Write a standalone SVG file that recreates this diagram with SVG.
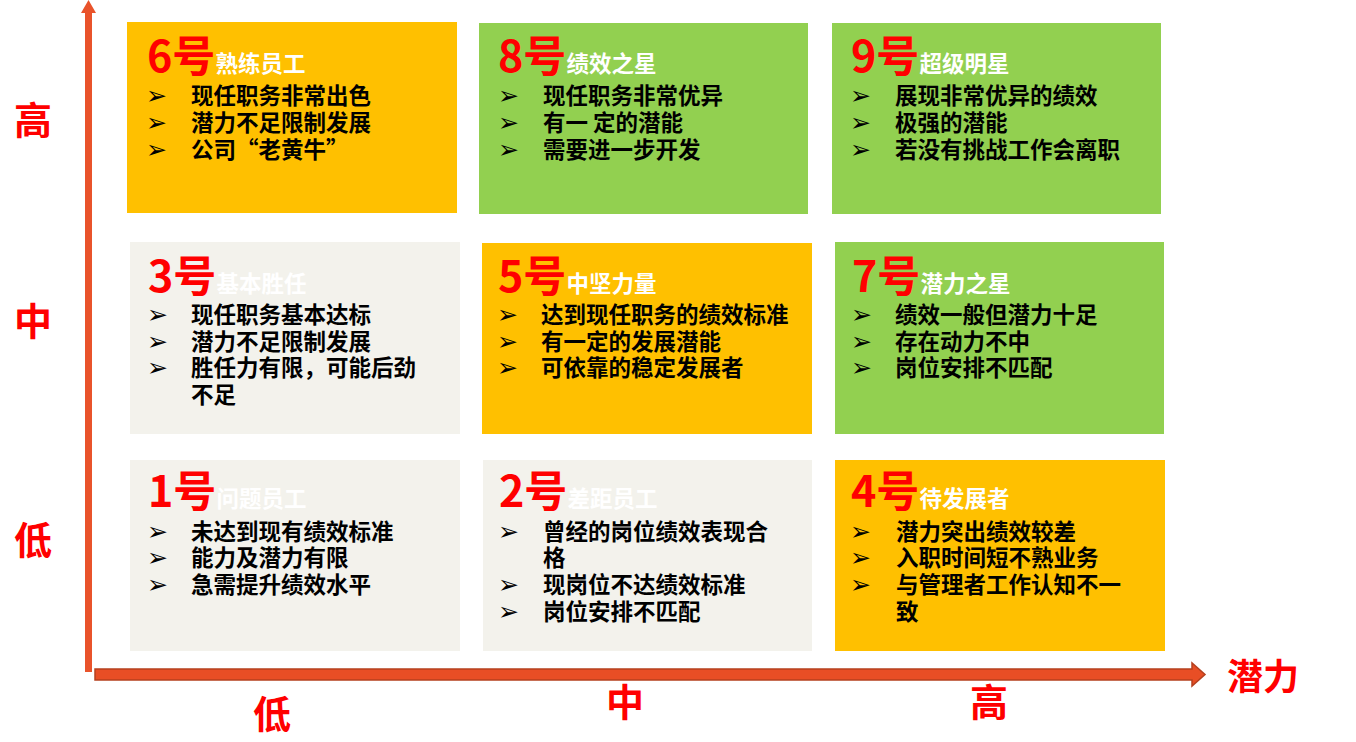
<svg xmlns="http://www.w3.org/2000/svg" width="1356" height="742" viewBox="0 0 1356 742">
<style>
.bg{fill:#FFFFFF}
.orange{fill:#FFC000}
.green{fill:#92D050}
.gray{fill:#F3F2EC}
.num{font-family:"Noto Sans CJK SC","Liberation Sans",sans-serif;font-weight:bold;font-size:43px;fill:#FF0000}
.sub{font-size:22.5px;fill:#FFFFFF}
.item{font-family:"Noto Sans CJK SC","Liberation Sans",sans-serif;font-weight:bold;font-size:22.5px;fill:#000000}
.blt{font-family:"DejaVu Sans",sans-serif;font-size:25px;fill:#000000}
.axis{font-family:"Noto Sans CJK SC","Liberation Sans",sans-serif;font-weight:bold;font-size:38px;fill:#FF0000;text-anchor:middle}
</style>
<rect class="bg" x="0" y="0" width="1356" height="742"/>

<g id="connectors">
  <polygon points="85,13 81,13 88.5,0 96,13 92,13 92,672 85,672" fill="#E9532B"/>
  <polygon points="95,669 1192,669 1192,663 1205,674.5 1192,686 1192,680 95,680" fill="#E84E25" stroke="#B5401E" stroke-width="1.5"/>
</g>

<g id="axis-labels">
  <text class="axis" x="33" y="134">高</text>
  <text class="axis" x="33" y="335">中</text>
  <text class="axis" x="33" y="554">低</text>
  <text class="axis" x="272" y="728">低</text>
  <text class="axis" x="625" y="716">中</text>
  <text class="axis" x="989" y="716">高</text>
  <text class="axis" x="1263" y="690" style="font-size:36px">潜力</text>
</g>

<g id="node6">
  <rect class="orange" x="127" y="22" width="330" height="191"/>
  <text class="num" x="147" y="72">6号<tspan class="sub">熟练员工</tspan></text>
  <text class="blt" x="146" y="104">➢</text><text class="item" x="191" y="104">现任职务非常出色</text>
  <text class="blt" x="146" y="131">➢</text><text class="item" x="191" y="131">潜力不足限制发展</text>
  <text class="blt" x="146" y="158">➢</text><text class="item" x="191" y="158">公司“老黄牛”</text>
</g>

<g id="node8">
  <rect class="green" x="479" y="23" width="329" height="191"/>
  <text class="num" x="498" y="72">8号<tspan class="sub">绩效之星</tspan></text>
  <text class="blt" x="498" y="104">➢</text><text class="item" x="543" y="104">现任职务非常优异</text>
  <text class="blt" x="498" y="131">➢</text><text class="item" x="543" y="131">有一 定的潜能</text>
  <text class="blt" x="498" y="158">➢</text><text class="item" x="543" y="158">需要进一步开发</text>
</g>

<g id="node9">
  <rect class="green" x="832" y="23" width="329" height="191"/>
  <text class="num" x="851" y="72">9号<tspan class="sub">超级明星</tspan></text>
  <text class="blt" x="850" y="104">➢</text><text class="item" x="895" y="104">展现非常优异的绩效</text>
  <text class="blt" x="850" y="131">➢</text><text class="item" x="895" y="131">极强的潜能</text>
  <text class="blt" x="850" y="158">➢</text><text class="item" x="895" y="158">若没有挑战工作会离职</text>
</g>

<g id="node3">
  <rect class="gray" x="130" y="242" width="330" height="192"/>
  <text class="num" x="148" y="292">3号<tspan class="sub">基本胜任</tspan></text>
  <text class="blt" x="147" y="323">➢</text><text class="item" x="191" y="323">现任职务基本达标</text>
  <text class="blt" x="147" y="350">➢</text><text class="item" x="191" y="350">潜力不足限制发展</text>
  <text class="blt" x="147" y="376">➢</text><text class="item" x="191" y="376">胜任力有限，可能后劲</text>
  <text class="item" x="191" y="403">不足</text>
</g>

<g id="node5">
  <rect class="orange" x="482" y="243" width="330" height="191"/>
  <text class="num" x="498" y="292">5号<tspan class="sub">中坚力量</tspan></text>
  <text class="blt" x="497" y="323">➢</text><text class="item" x="541" y="323">达到现任职务的绩效标准</text>
  <text class="blt" x="497" y="350">➢</text><text class="item" x="541" y="350">有一定的发展潜能</text>
  <text class="blt" x="497" y="376">➢</text><text class="item" x="541" y="376">可依靠的稳定发展者</text>
</g>

<g id="node7">
  <rect class="green" x="835" y="242" width="329" height="192"/>
  <text class="num" x="852" y="292">7号<tspan class="sub">潜力之星</tspan></text>
  <text class="blt" x="851" y="323">➢</text><text class="item" x="895" y="323">绩效一般但潜力十足</text>
  <text class="blt" x="851" y="350">➢</text><text class="item" x="895" y="350">存在动力不中</text>
  <text class="blt" x="851" y="376">➢</text><text class="item" x="895" y="376">岗位安排不匹配</text>
</g>

<g id="node1">
  <rect class="gray" x="130" y="460" width="330" height="191"/>
  <text class="num" x="148" y="507">1号<tspan class="sub">问题员工</tspan></text>
  <text class="blt" x="147" y="540">➢</text><text class="item" x="191" y="540">未达到现有绩效标准</text>
  <text class="blt" x="147" y="566">➢</text><text class="item" x="191" y="566">能力及潜力有限</text>
  <text class="blt" x="147" y="593">➢</text><text class="item" x="191" y="593">急需提升绩效水平</text>
</g>

<g id="node2">
  <rect class="gray" x="483" y="460" width="329" height="191"/>
  <text class="num" x="499" y="507">2号<tspan class="sub">差距员工</tspan></text>
  <text class="blt" x="498" y="540">➢</text><text class="item" x="543" y="540">曾经的岗位绩效表现合</text>
  <text class="item" x="543" y="566">格</text>
  <text class="blt" x="498" y="593">➢</text><text class="item" x="543" y="593">现岗位不达绩效标准</text>
  <text class="blt" x="498" y="620">➢</text><text class="item" x="543" y="620">岗位安排不匹配</text>
</g>

<g id="node4">
  <rect class="orange" x="835" y="460" width="330" height="191"/>
  <text class="num" x="851" y="507">4号<tspan class="sub">待发展者</tspan></text>
  <text class="blt" x="850" y="540">➢</text><text class="item" x="896" y="540">潜力突出绩效较差</text>
  <text class="blt" x="850" y="566">➢</text><text class="item" x="896" y="566">入职时间短不熟业务</text>
  <text class="blt" x="850" y="593">➢</text><text class="item" x="896" y="593">与管理者工作认知不一</text>
  <text class="item" x="896" y="620">致</text>
</g>
</svg>
